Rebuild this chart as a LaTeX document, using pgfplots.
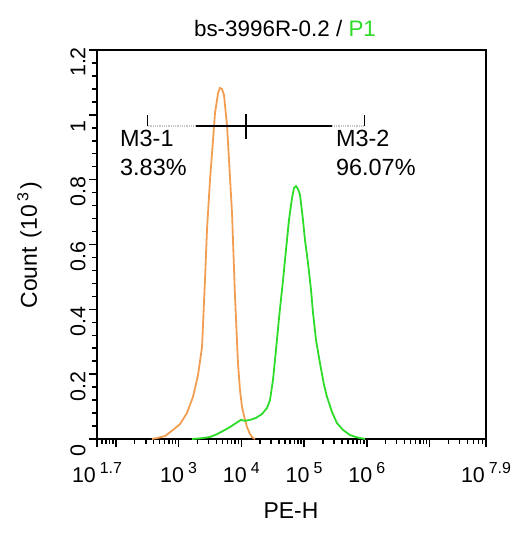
\documentclass[border=0pt]{standalone}
\usepackage{pgfplots}
\pgfplotsset{compat=1.18}
\usepackage{fontspec}
\setmainfont{Liberation Sans}
\definecolor{orangec}{RGB}{242,158,82}
\definecolor{greenc}{RGB}{45,220,40}
\newcommand{\ex}[1]{10\hspace{4bp}\raisebox{8.5bp}{\fontsize{16}{16}\selectfont #1}}
\begin{document}
\begin{tikzpicture}
\begin{axis}[
  name=ax,
  scale only axis,
  width=389bp, height=389bp,
  xmin=1.7, xmax=7.9, ymin=0, ymax=1.2,
  axis line style={line width=2.1bp},
  tick style={black, line width=1.5bp},
  major tick length=8bp, minor tick length=4.5bp,
  tick align=outside,
  xtick pos=bottom, ytick pos=left,
  xtick={1.7,2,3,4,5,6,7,7.9},
  xticklabels={\ex{1.7},,\ex{3},\ex{4},\ex{5},\ex{6},,\ex{7.9}},
  minor xtick={1.77815,1.84510,1.90309,1.95424,
    2.30103,2.47712,2.60206,2.69897,2.77815,2.84510,2.90309,2.95424,
    3.30103,3.47712,3.60206,3.69897,3.77815,3.84510,3.90309,3.95424,
    4.30103,4.47712,4.60206,4.69897,4.77815,4.84510,4.90309,4.95424,
    5.30103,5.47712,5.60206,5.69897,5.77815,5.84510,5.90309,5.95424,
    6.30103,6.47712,6.60206,6.69897,6.77815,6.84510,6.90309,6.95424,
    7.30103,7.47712,7.60206,7.69897,7.77815,7.84510},
  ytick={0,0.2,0.4,0.6,0.8,1,1.2},
  yticklabels={0,0.2,0.4,0.6,0.8,1,1.2},
  minor y tick num=4,
  tick label style={font=\fontsize{21.5}{24}\selectfont},
  xticklabel style={anchor=base, yshift=-35bp},
  yticklabel style={rotate=90, anchor=south, xshift=-12bp},
  clip=false,
]
% orange histogram
\addplot[orangec, line width=1.8bp] coordinates {
(2.577,0)(2.656,0.003)(2.784,0.009)(2.911,0.028)(3.023,0.046)(3.134,0.080)
(3.230,0.130)(3.310,0.197)(3.374,0.284)(3.421,0.490)(3.453,0.645)(3.501,0.799)
(3.549,0.922)(3.581,1.006)(3.613,1.046)(3.629,1.067)(3.660,1.083)(3.692,1.080)
(3.724,1.061)(3.740,1.030)(3.772,0.969)(3.804,0.861)(3.852,0.697)(3.900,0.438)
(3.947,0.234)(3.979,0.151)(4.011,0.099)(4.059,0.059)(4.091,0.037)(4.139,0.015)
(4.171,0.006)(4.218,0)};
% green histogram
\addplot[greenc, line width=1.8bp] coordinates {
(3.214,0)(3.342,0.002)(3.501,0.006)(3.613,0.015)(3.740,0.028)(3.820,0.037)
(3.915,0.049)(3.995,0.059)(4.059,0.056)(4.139,0.059)(4.234,0.065)(4.330,0.077)
(4.410,0.096)(4.457,0.120)(4.505,0.182)(4.553,0.275)(4.601,0.373)(4.665,0.490)
(4.712,0.583)(4.760,0.676)(4.808,0.743)(4.840,0.774)(4.872,0.780)(4.904,0.771)
(4.936,0.753)(4.983,0.676)(5.015,0.614)(5.063,0.543)(5.111,0.460)(5.143,0.389)
(5.191,0.305)(5.254,0.234)(5.318,0.167)(5.366,0.130)(5.446,0.083)(5.525,0.049)
(5.621,0.028)(5.733,0.012)(5.844,0.005)(5.972,0)};
% markers
\addplot[gray!45, line width=1.6bp, dash pattern=on 1bp off 0.8bp] coordinates {(2.51,0.965)(3.28,0.965)};
\addplot[gray!45, line width=1.6bp, dash pattern=on 1bp off 0.8bp] coordinates {(5.45,0.965)(5.96,0.965)};
\addplot[black, line width=1.8bp] coordinates {(3.28,0.965)(5.45,0.965)};
\addplot[black, line width=1.8bp] coordinates {(4.08,1.002)(4.08,0.925)};
\addplot[black, line width=1.3bp] coordinates {(2.51,0.965)(2.51,0.999)};
\addplot[black, line width=1.3bp] coordinates {(5.96,0.965)(5.96,0.999)};
\node[anchor=base west, inner sep=0pt, font=\fontsize{23.5}{26}\selectfont] at (axis cs:2.067,0.901) {M3-1};
\node[anchor=base west, inner sep=0pt, font=\fontsize{23.5}{26}\selectfont] at (axis cs:2.067,0.814) {3.83\%};
\node[anchor=base west, inner sep=0pt, font=\fontsize{23.5}{26}\selectfont] at (axis cs:5.509,0.901) {M3-2};
\node[anchor=base west, inner sep=0pt, font=\fontsize{23.5}{26}\selectfont] at (axis cs:5.509,0.814) {96.07\%};
\end{axis}
\node[anchor=base, inner sep=0pt, font=\fontsize{22.5}{26}\selectfont] at ([xshift=188bp,yshift=402bp]ax.south west) {bs-3996R-0.2 / \textcolor{greenc}{P1}};
\node[anchor=base, inner sep=0pt, font=\fontsize{23}{26}\selectfont] at ([xshift=194bp,yshift=-79bp]ax.south west) {PE-H};
\node[anchor=base, rotate=90, inner sep=0pt, font=\fontsize{23}{26}\selectfont] at ([xshift=-60bp,yshift=194bp]ax.south west) {Count\hspace{9bp}(10\hspace{4bp}\raisebox{8.5bp}{\fontsize{16}{16}\selectfont 3}\hspace{3bp})};
\path (ax.south west) ++(-97bp,-94bp) rectangle ++(526bp,533bp);
\end{tikzpicture}
\end{document}
